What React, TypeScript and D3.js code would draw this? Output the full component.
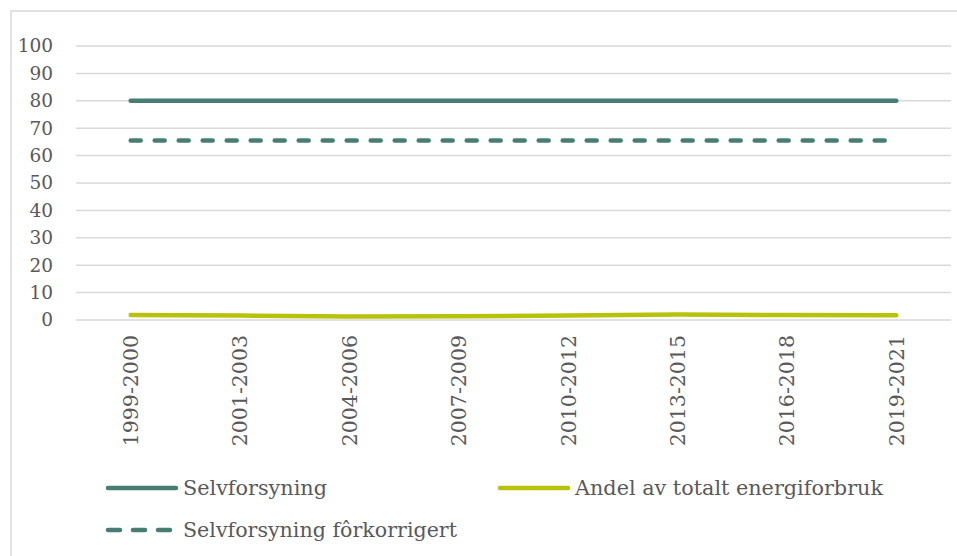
import React from "react";
import * as d3 from "d3";

const categories = ["1999-2000", "2001-2003", "2004-2006", "2007-2009", "2010-2012", "2013-2015", "2016-2018", "2019-2021"];
const selvforsyning = [80, 80, 80, 80, 80, 80, 80, 80];
const andelTotalt = [1.8, 1.6, 1.3, 1.4, 1.6, 2.0, 1.8, 1.7];
const selvforsyningForkorrigert = [65.5, 65.5, 65.5, 65.5, 65.5, 65.5, 65.5, 65.5];
const yTicks = [0, 10, 20, 30, 40, 50, 60, 70, 80, 90, 100];

const TEAL = "#477d72";
const LIME = "#b9c20a";
const TEXT = "#595959";
const GRID = "#d9d9d9";
const FONT = "'DejaVu Serif', 'Liberation Serif', serif";

export default function App() {
  const W = 957;
  const H = 556;
  const x = d3.scaleBand<string>().domain(categories).range([76, 951]).padding(0);
  const y = d3.scaleLinear().domain([0, 100]).range([320, 46]);
  const cx = (c: string) => (x(c) ?? 0) + x.bandwidth() / 2;
  const line = d3
    .line<number>()
    .x((_, i) => cx(categories[i]))
    .y((d) => y(d));

  const legend = [
    { label: "Selvforsyning", color: TEAL, dash: undefined as string | undefined, x: 108, y: 488, len: 144 },
    { label: "Andel av totalt energiforbruk", color: LIME, dash: undefined, x: 500, y: 488, len: 308 },
    { label: "Selvforsyning fôrkorrigert", color: TEAL, dash: "12,13", x: 108, y: 530, len: 274 },
  ];

  return (
    <svg
      width={W}
      height={H}
      style={{ position: "absolute", left: 0, top: 0, background: "#fff" }}
      fontFamily={FONT}
    >
      <rect x={11} y={11} width={W} height={H} fill="none" stroke={GRID} strokeWidth={1.5} />
      {yTicks.map((t) => (
        <g key={t}>
          <line x1={76} x2={951} y1={y(t)} y2={y(t)} stroke={GRID} strokeWidth={1.5} />
          <text x={53} y={y(t)} dy="0.35em" textAnchor="end" fontSize={18.5} fill={TEXT}>
            {t}
          </text>
        </g>
      ))}
      {categories.map((c) => (
        <text
          key={c}
          transform={`translate(${cx(c)},335) rotate(-90)`}
          textAnchor="end"
          dy="0.36em"
          fontSize={20.5}
          fill={TEXT}
        >
          {c}
        </text>
      ))}
      <path d={line(selvforsyning) ?? ""} fill="none" stroke={TEAL} strokeWidth={4.5} strokeLinecap="round" strokeLinejoin="round" />
      <path
        d={line(selvforsyningForkorrigert) ?? ""}
        fill="none"
        stroke={TEAL}
        strokeWidth={4.5}
        strokeLinecap="round"
        strokeDasharray="10,14"
      />
      <path d={line(andelTotalt) ?? ""} fill="none" stroke={LIME} strokeWidth={4.5} strokeLinecap="round" strokeLinejoin="round" />
      {legend.map((l) => (
        <g key={l.label}>
          <line
            x1={l.x}
            x2={l.x + 68}
            y1={l.y}
            y2={l.y}
            stroke={l.color}
            strokeWidth={4.5}
            strokeLinecap="round"
            strokeDasharray={l.dash}
          />
          <text
            x={l.x + 75}
            y={l.y}
            dy="0.35em"
            fontSize={20}
            fill={TEXT}
            textLength={l.len}
            lengthAdjust="spacingAndGlyphs"
          >
            {l.label}
          </text>
        </g>
      ))}
    </svg>
  );
}
